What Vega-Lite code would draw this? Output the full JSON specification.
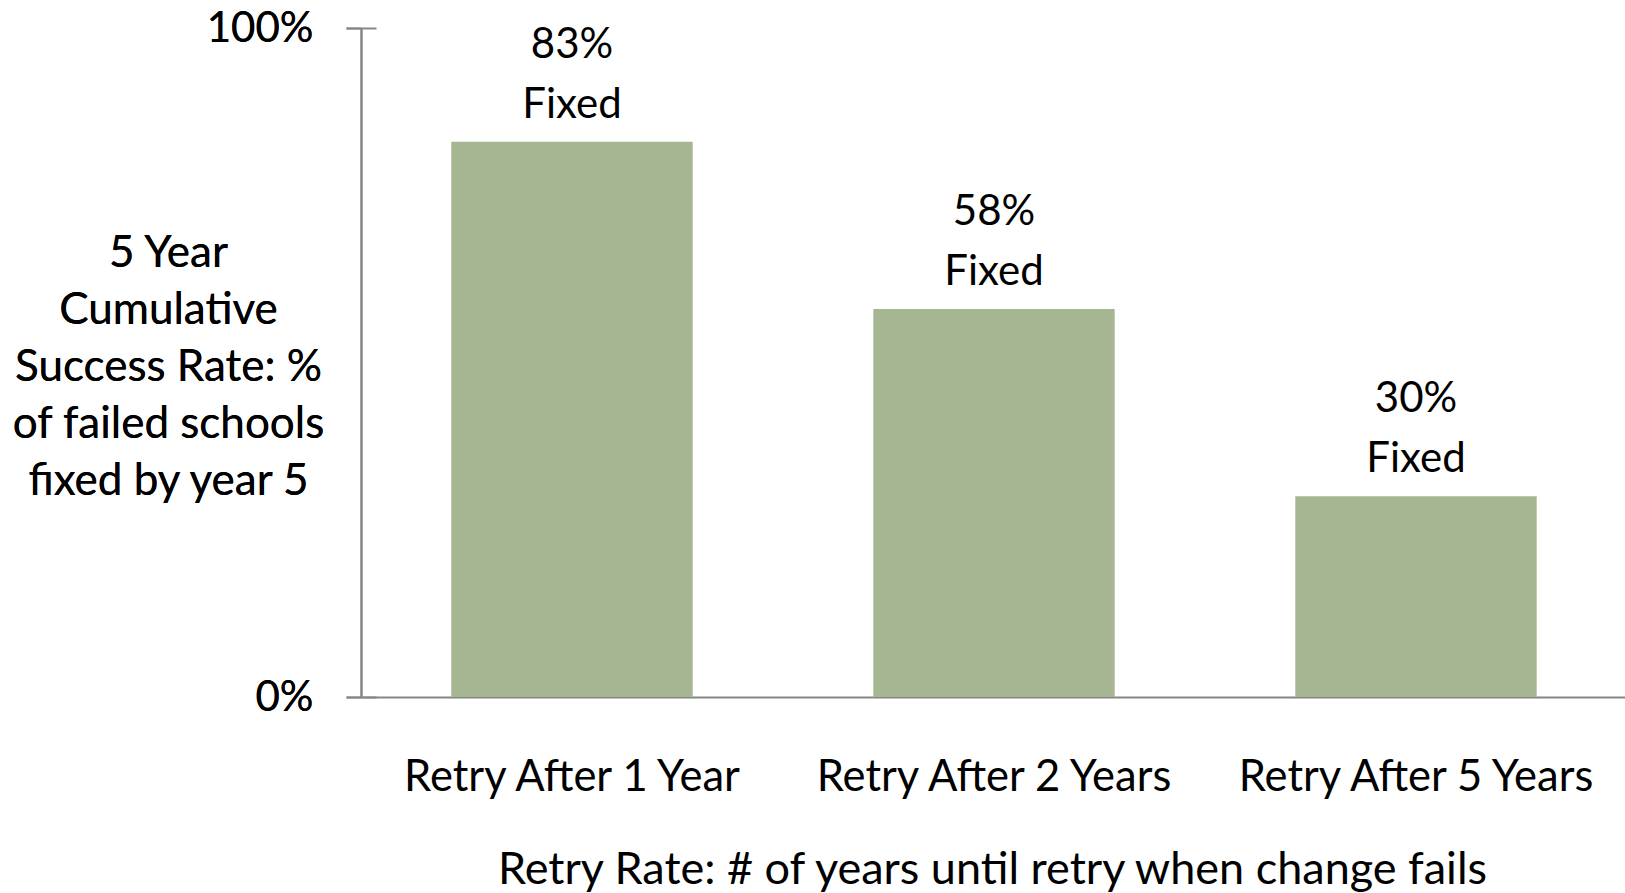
{
  "$schema": "https://vega.github.io/schema/vega-lite/v6.json",
  "width": 1266,
  "height": 669,
  "autosize": {"type": "none"},
  "padding": {"left": 361, "top": 28, "right": 0, "bottom": 196},
  "background": "white",
  "config": {
    "view": {"stroke": null},
    "font": "Lato",
    "text": {"font": "Lato"}
  },
  "data": {
    "values": [
      {"category": "Retry After 1 Year", "value": 0.83},
      {"category": "Retry After 2 Years", "value": 0.58},
      {"category": "Retry After 5 Years", "value": 0.30}
    ]
  },
  "encoding": {
    "x": {
      "field": "category",
      "type": "nominal",
      "sort": null,
      "scale": {"paddingInner": 0.428, "paddingOuter": 0.214},
      "axis": {
        "title": "Retry Rate: # of years until retry when change fails",
        "titleFont": "Lato",
        "titleFontSize": 45,
        "titleFontWeight": "normal",
        "titleColor": "black",
        "titleBaseline": "alphabetic",
        "titleY": 186,
        "titleX": 631,
        "labelFont": "Lato",
        "labelFontSize": 43.5,
        "labelColor": "black",
        "labelAngle": 0,
        "labelBaseline": "alphabetic",
        "labelPadding": 93,
        "labelLimit": 0,
        "ticks": false,
        "tickSize": 0,
        "domainColor": "#868686",
        "domainWidth": 2,
        "grid": false
      }
    },
    "y": {
      "field": "value",
      "type": "quantitative",
      "scale": {"domain": [0, 1], "nice": false, "zero": true},
      "axis": {
        "orient": "left",
        "values": [0, 1],
        "format": ".0%",
        "title": ["5 Year", "Cumulative", "Success Rate: %", "of failed schools", "fixed by year 5"],
        "titleFont": "Lato",
        "titleFontSize": 44,
        "titleFontWeight": "normal",
        "titleColor": "black",
        "titleAngle": 0,
        "titleAlign": "center",
        "titleBaseline": "alphabetic",
        "titleLineHeight": 57,
        "titleX": -193,
        "titleY": 238,
        "labelFont": "Lato",
        "labelFontSize": 42,
        "labelColor": "black",
        "labelPadding": 33,
        "labelBaseline": "middle",
        "tickSize": 15,
        "tickColor": "#868686",
        "tickWidth": 2,
        "domainColor": "#868686",
        "domainWidth": 2,
        "grid": false
      }
    }
  },
  "layer": [
    {
      "mark": {"type": "bar", "color": "#A6B592"}
    },
    {
      "mark": {"type": "text", "baseline": "alphabetic", "align": "center", "dy": -84, "fontSize": 42, "color": "black", "font": "Lato"},
      "encoding": {
        "text": {"field": "value", "type": "quantitative", "format": ".0%"},
        "y": {
          "field": "value",
          "type": "quantitative",
          "axis": {
            "orient": "left",
            "offset": -15,
            "values": [0, 1],
            "labels": false,
            "domain": false,
            "title": null,
            "tickSize": 15,
            "tickColor": "#868686",
            "tickWidth": 2,
            "grid": false
          }
        }
      }
    },
    {
      "mark": {"type": "text", "baseline": "alphabetic", "align": "center", "dy": -24, "fontSize": 42, "color": "black", "font": "Lato"},
      "encoding": {
        "text": {"value": "Fixed"}
      }
    }
  ],
  "resolve": {"axis": {"y": "independent"}}
}
